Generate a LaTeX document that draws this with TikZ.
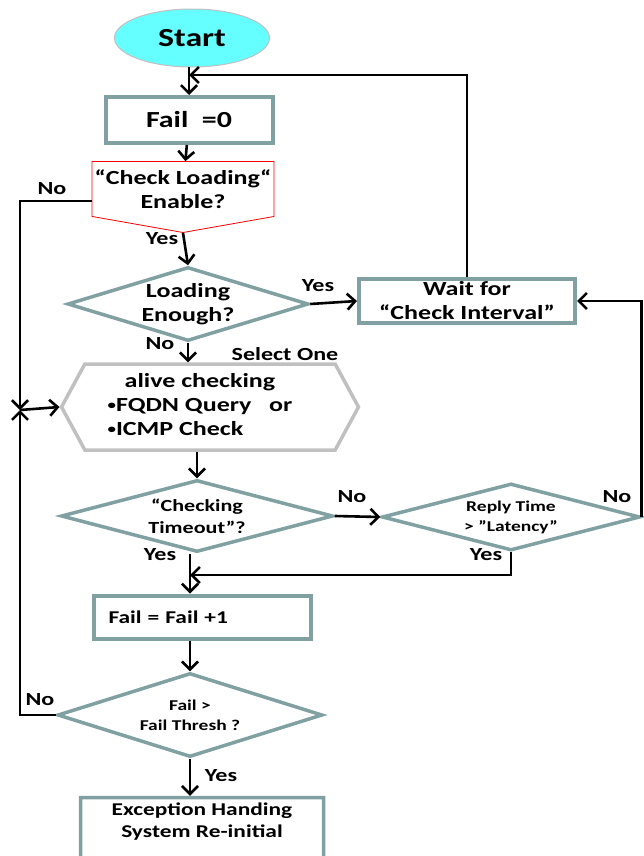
\documentclass[tikz,border=0pt]{standalone}
\usepackage{fontspec}
\setmainfont{Carlito}[FakeStretch=1.3]
\usetikzlibrary{arrows.meta, shapes.geometric, shapes.symbols}

\definecolor{boxline}{RGB}{128,160,162}
\definecolor{hexline}{RGB}{192,192,192}
\definecolor{startfill}{RGB}{102,255,255}

\begin{document}
\begin{tikzpicture}[x=1pt, y=-1pt, line width=2.6pt,
        >={Straight Barb[length=8pt,width=16pt]},
        every node/.style={font=\bfseries\fontsize{20}{24}\selectfont},
        procbox/.style={draw=boxline, line width=4pt, rectangle, align=center},
        decide/.style={draw=boxline, line width=3.5pt, diamond, inner sep=0pt, align=center},
        small/.style={font=\bfseries\fontsize{15}{20}\selectfont},
        answer/.style={font=\bfseries\fontsize{18.5}{20}\selectfont}]
                \useasboundingbox (0,0) rectangle (643,856);

                % Boxes:
                \node[ellipse, fill=startfill, draw=hexline, line width=1pt, minimum width=155pt,
                      minimum height=58pt, font=\bfseries\fontsize{26}{30}\selectfont] (start) at (192,38) {Start};
                \node[procbox, minimum width=167pt, minimum height=46pt,
                      font=\bfseries\fontsize{23}{28}\selectfont] (fail0) at (189,120) {Fail\ \ =0};
                \node[signal, signal to=south, signal from=nowhere, signal pointer angle=160, draw=red,
                      line width=0.8pt, minimum width=182pt, inner xsep=1pt, inner ysep=8pt,
                      align=center] (enable) at (183,189) {“Check Loading“\\Enable?};
                \node[decide, aspect=3.26, minimum width=241pt, minimum height=74pt] (loading) at (188,304) {Loading\\Enough?};
                \node[procbox, minimum width=216pt, minimum height=44pt] (wait) at (467,301) {Wait for\\“Check Interval”};
                \node[signal, signal to=east and west, signal from=nowhere, signal pointer angle=123,
                      draw=hexline, line width=3.5pt, minimum width=297pt, minimum height=86pt,
                      inner sep=1pt] (alive) at (210,407)
                      {\begin{tabular}{@{}l@{\hspace{20pt}}}\multicolumn{1}{@{}c@{\hspace{20pt}}}{alive checking}\\
                       \raisebox{2.5pt}{\fontsize{13}{13}\selectfont\textbullet}FQDN Query\ \ \ or\\
                       \raisebox{2.5pt}{\fontsize{13}{13}\selectfont\textbullet}ICMP Check\end{tabular}};
                \node[decide, aspect=3.78, minimum width=272pt, minimum height=72pt,
                      font=\bfseries\fontsize{17}{22}\selectfont] (timeout) at (197,516) {“Checking\\Timeout”?};
                \node[decide, small, aspect=3.85, minimum width=258pt, minimum height=67pt] (reply) at (511,517) {Reply Time\\> ”Latency”};
                \node[procbox, minimum width=217pt, minimum height=43pt, align=left, text width=187pt,
                      font=\bfseries\fontsize{18}{22}\selectfont] (fail1) at (202,617) {Fail = Fail +1};
                \node[decide, small, aspect=3.15, minimum width=265pt, minimum height=84pt] (thresh) at (190,715) {Fail >\\Fail Thresh ?};
                \node[tape, tape bend top=none, draw=boxline, line width=3.5pt, minimum width=243pt,
                      minimum height=78pt, align=center, font=\bfseries\fontsize{18}{22}\selectfont] (exc) at (202,834)
                      {Exception Handing\\System Re-initial\\[6pt]};

                % Junction points:
                \coordinate (loopin) at (189,75);
                \coordinate (join) at (20,410);
                \coordinate (merge) at (190,575);

                % Arrows:
                \draw[->] (start.south -| fail0.north) -- (fail0);
                \draw[->] (fail0) -- (enable);
                \draw[->] (enable.south) -- (loading.north);
                \draw[->] ([yshift=-12pt]enable.west) -| (join);
                \draw[->] (loading.east) -- (wait.west);
                \draw[->] (wait.north) |- (loopin);
                \draw[->] (loading.south) -- (loading.south |- alive.north);
                \draw[->] (join) -- (alive.west);
                \draw[->] (alive.south -| timeout.north) -- (timeout.north);
                \draw[->] (timeout.east) -- (reply.west);
                \draw[->] (reply.east) |- (wait.east);
                \draw[->] (reply.south) |- (merge);
                \draw[->] (timeout.south -| merge) -- (fail1.north -| merge);
                \draw[->] (fail1.south -| thresh.north) -- (thresh.north);
                \draw[->] (thresh.west) -| (join);
                \draw[->] (thresh.south) -- (thresh.south |- exc.north);

                % Labels:
                \node[answer] (noenable) at (52,189) {No};
                \node[answer] (yesenable) at (162,239) {Yes};
                \node[answer] (yesloading) at (318,286) {Yes};
                \node[answer] (noloading) at (160,344) {No};
                \node[answer] (selectone) at (285,354) {Select One};
                \node[answer] (notimeout) at (352,497) {No};
                \node[answer] (noreply) at (617,497) {No};
                \node[answer] (yesreply) at (486,555) {Yes};
                \node[answer] (yestimeout) at (160,555) {Yes};
                \node[answer] (nothresh) at (40,700) {No};
                \node[answer] (yesthresh) at (221,776) {Yes};
            \end{tikzpicture}
\end{document}
